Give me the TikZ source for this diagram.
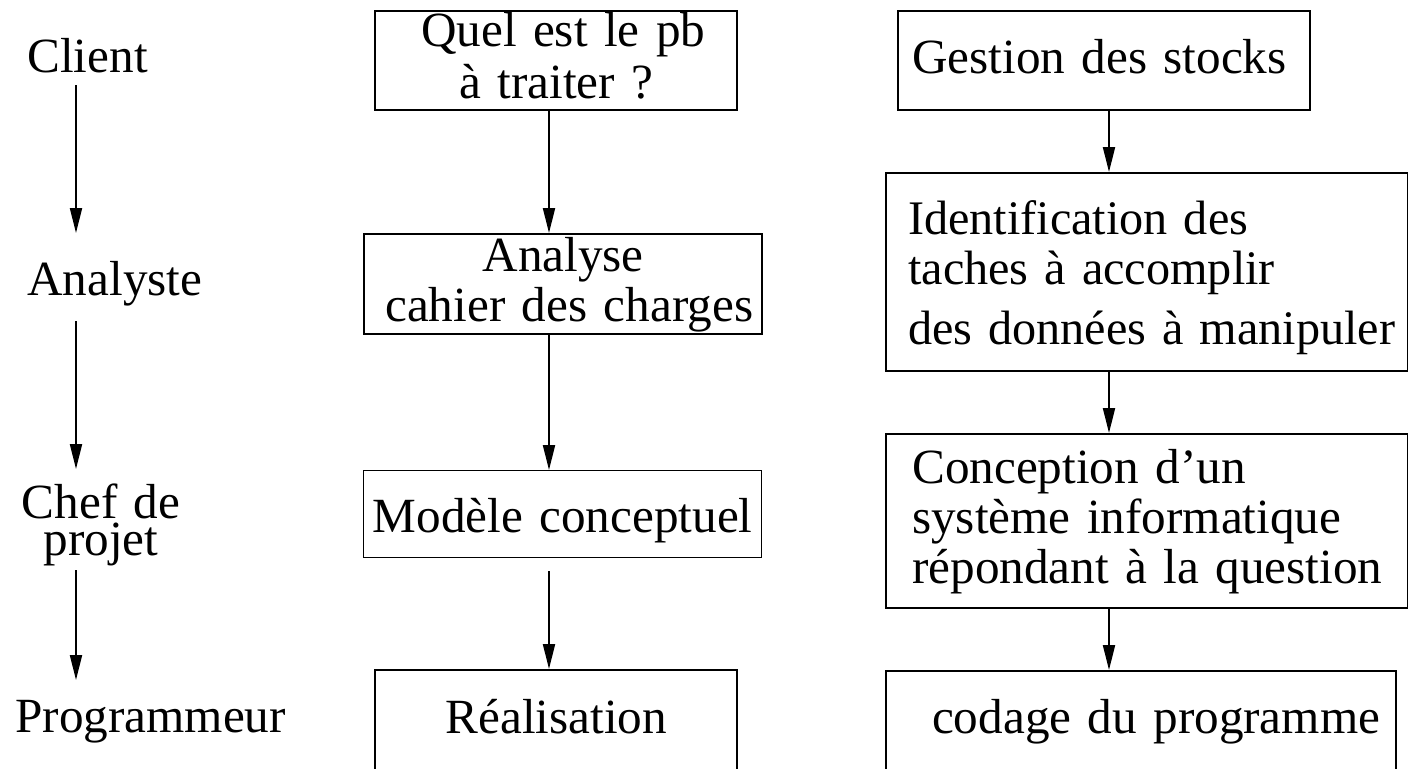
\documentclass[tikz,border=0pt]{standalone}
\usepackage{fontspec}
\setmainfont{Liberation Serif}
\usetikzlibrary{arrows.meta}

\begin{document}
\begin{tikzpicture}[x=0.5pt,y=-0.5pt,
    every node/.style={font=\fontsize{24.6}{25}\selectfont, inner sep=0pt},
    boite/.style={draw, line width=1.2pt, anchor=north west, inner ysep=0pt},
    fleche/.style={-{Triangle[length=12.5pt,width=6pt]}, line width=1pt}]
  \useasboundingbox (0,0) rectangle (1408,768);
  \clip (0,0) rectangle (1408,768);

  % acteurs
  \node[anchor=base west] (client) at (27,72) {Client};
  \node[anchor=base west] (analyste) at (27,295) {Analyste};
  \node[anchor=base, text width=100pt, align=center] (chef) at (101,518) {Chef de\\[-6.5pt] projet};
  \node[anchor=base west] (prog) at (15,732) {Programmeur};

  \coordinate (client-bas) at (76,85);
  \coordinate (analyste-haut) at (76,233);
  \coordinate (analyste-bas) at (76,321);
  \coordinate (chef-haut) at (76,469);
  \coordinate (chef-bas) at (76,570);
  \coordinate (prog-haut) at (76,680);

  \draw[fleche] (client-bas) -- (analyste-haut);
  \draw[fleche] (analyste-bas) -- (chef-haut);
  \draw[fleche] (chef-bas) -- (prog-haut);

  % demarche
  \node[boite, text width=181pt, align=center, text height=17.5pt, text depth=32pt] (pb) at (374,10) {\hspace*{7pt}Quel est le pb\\[1pt] à traiter ?};
  \node[boite, text width=199pt, align=center, text height=18.5pt, text depth=31.5pt] (analyse) at (363,233) {Analyse\\ \hspace*{6pt}cahier des charges};
  \node[boite, line width=0.6pt, text width=199pt, align=center, text height=31pt, text depth=12.5pt] (modele) at (363,470) {Modèle conceptuel};
  \node[boite, text width=181pt, align=center, text height=31.5pt, text depth=30pt] (realisation) at (374,669) {Réalisation};

  \coordinate (mx) at (549,0);
  \draw[fleche] (pb.south -| mx) -- (analyse.north -| mx);
  \draw[fleche] (analyse.south -| mx) -- (modele.north -| mx);
  \draw[fleche, shorten <=6.5pt] (modele.south -| mx) -- (realisation.north -| mx);

  % exemple
  \node[boite, inner xsep=7pt, text width=192pt, align=left, text height=31pt, text depth=18.5pt] (stocks) at (897,10) {Gestion des stocks};
  \node[boite, font=\fontsize{24.1}{25}\selectfont, inner xsep=11pt, text width=239pt, align=left, text height=30.5pt, text depth=68.5pt] (taches) at (885,172) {Identification des\\ taches à accomplir\\[5pt] \mbox{des données à manipuler}};
  \node[boite, inner xsep=13pt, text width=235pt, align=left, text height=24.5pt, text depth=62.5pt] (conception) at (885,433) {Conception d’un\\ système informatique\\ répondant à la question};
  \node[boite, inner xsep=8pt, text width=239pt, align=right, text height=31pt, text depth=30pt] (codage) at (885,670) {codage du programme};

  \coordinate (rx) at (1109,0);
  \draw[fleche] (stocks.south -| rx) -- (taches.north -| rx);
  \draw[fleche] (taches.south -| rx) -- (conception.north -| rx);
  \draw[fleche] (conception.south -| rx) -- (codage.north -| rx);
\end{tikzpicture}
\end{document}
